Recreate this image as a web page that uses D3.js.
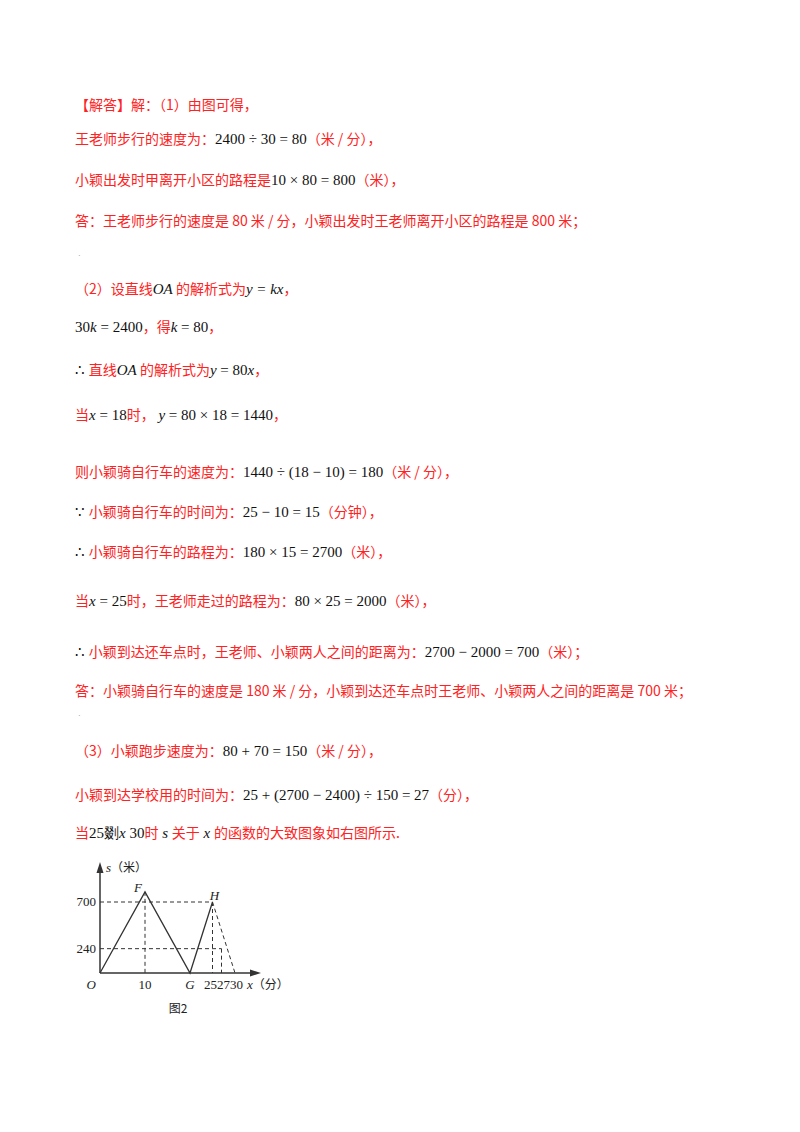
<!DOCTYPE html>
<html><head><meta charset="utf-8">
<script src="https://cdn.jsdelivr.net/npm/d3@7"></script>
<style>body{margin:0;background:#fff}</style>
</head><body>
<script>
// document text lines: [kind, text], r = red CJK, m = math, i = italic math
var textLines = [
  {y: 105, parts: [["r", "【解答】解：（1）由图可得，"]]},
  {y: 139, parts: [["r", "王老师步行的速度为："], ["m", "2400 ÷ 30 = 80"], ["r", "（米 / 分），"]]},
  {y: 180, parts: [["r", "小颖出发时甲离开小区的路程是"], ["m", "10 × 80 = 800"], ["r", "（米），"]]},
  {y: 221, parts: [["r", "答：王老师步行的速度是 80 米 / 分，小颖出发时王老师离开小区的路程是 800 米；"]]},
  {y: 289, parts: [["r", "（2）设直线"], ["i", "OA"], ["r", " 的解析式为"], ["i", "y = kx"], ["r", "，"]]},
  {y: 327, parts: [["m", "30"], ["i", "k"], ["m", " = 2400"], ["r", "，得"], ["i", "k"], ["m", " = 80"], ["r", "，"]]},
  {y: 370, parts: [["m", "∴ "], ["r", "直线"], ["i", "OA"], ["r", " 的解析式为"], ["i", "y"], ["m", " = 80"], ["i", "x"], ["r", "，"]]},
  {y: 415, parts: [["r", "当"], ["i", "x"], ["m", " = 18"], ["r", "时，"], ["i", " y"], ["m", " = 80 × 18 = 1440"], ["r", "，"]]},
  {y: 472, parts: [["r", "则小颖骑自行车的速度为："], ["m", "1440 ÷ (18 − 10) = 180"], ["r", "（米 / 分），"]]},
  {y: 512, parts: [["m", "∵ "], ["r", "小颖骑自行车的时间为："], ["m", "25 − 10 = 15"], ["r", "（分钟），"]]},
  {y: 552, parts: [["m", "∴ "], ["r", "小颖骑自行车的路程为："], ["m", "180 × 15 = 2700"], ["r", "（米），"]]},
  {y: 601, parts: [["r", "当"], ["i", "x"], ["m", " = 25"], ["r", "时，王老师走过的路程为："], ["m", "80 × 25 = 2000"], ["r", "（米），"]]},
  {y: 652, parts: [["m", "∴ "], ["r", "小颖到达还车点时，王老师、小颖两人之间的距离为："], ["m", "2700 − 2000 = 700"], ["r", "（米）；"]]},
  {y: 691, parts: [["r", "答：小颖骑自行车的速度是 180 米 / 分，小颖到达还车点时王老师、小颖两人之间的距离是 700 米；"]]},
  {y: 751, parts: [["r", "（3）小颖跑步速度为："], ["m", "80 + 70 = 150"], ["r", "（米 / 分），"]]},
  {y: 795, parts: [["r", "小颖到达学校用的时间为："], ["m", "25 + (2700 − 2400) ÷ 150 = 27"], ["r", "（分），"]]},
  {y: 833, parts: [["r", "当"], ["m", "25剟"], ["i", "x"], ["m", "  30"], ["r", "时"], ["i", " s "], ["r", "关于"], ["i", " x "], ["r", "的函数的大致图象如右图所示."]]}
];

// graph data: distance s (m) against time x (min)
var solidX = [0, 10, 20, 25];
var solidS = [0, 800, 0, 700];
var dashX = [25, 30];
var dashS = [700, 0];
var xTicks = [10];
var yTicks = [240, 700];
var xTickLabel = "252730";

var svg = d3.select("body").append("svg").attr("width", 800).attr("height", 1132);

textLines.forEach(function(line) {
  var t = svg.append("text").attr("x", 75).attr("y", line.y + 5).attr("font-size", 14);
  line.parts.forEach(function(p) {
    var s = t.append("tspan").text(p[1]);
    if (p[0] === "r") s.attr("fill", "#f22").attr("font-family", "Noto Sans CJK SC");
    else s.attr("fill", "#111").attr("font-family", "Liberation Serif").attr("font-size", 15)
      .attr("font-style", p[0] === "i" ? "italic" : "normal");
  });
});
svg.append("text").attr("x", 78).attr("y", 258).attr("font-size", 8).attr("fill", "#889").text("·");
svg.append("text").attr("x", 78).attr("y", 718).attr("font-size", 8).attr("fill", "#889").text("·");

// chart
var x = d3.scaleLinear().domain([0, 30]).range([100, 235]);
var y = d3.scaleLinear().domain([0, 700]).range([973, 902]);
var g = svg.append("g").attr("stroke", "#333").attr("fill", "none");
var line = d3.line().x(d => x(d[0])).y(d => y(d[1]));

// axes with arrows
g.append("line").attr("x1", x(0)).attr("x2", 255).attr("y1", y(0)).attr("y2", y(0)).attr("stroke-width", 1.5);
g.append("line").attr("x1", x(0)).attr("x2", x(0)).attr("y1", y(0)).attr("y2", 866).attr("stroke-width", 1.5);
svg.append("path").attr("d", `M${x(0) - 3.5},873 L${x(0)},862 L${x(0) + 3.5},873 Z`).attr("fill", "#333");
svg.append("path").attr("d", `M250,${y(0) - 3.5} L261,${y(0)} L250,${y(0) + 3.5} Z`).attr("fill", "#333");

// dashed guides
var dash = g.append("g").attr("stroke-dasharray", "4,3").attr("stroke-width", 1);
dash.append("line").attr("x1", x(0)).attr("x2", x(25)).attr("y1", y(700)).attr("y2", y(700));
dash.append("line").attr("x1", x(10)).attr("x2", x(10)).attr("y1", y(800)).attr("y2", y(0));
dash.append("line").attr("x1", x(0)).attr("x2", x(27)).attr("y1", y(240)).attr("y2", y(240));
dash.append("line").attr("x1", x(25)).attr("x2", x(25)).attr("y1", y(700)).attr("y2", y(0));
dash.append("line").attr("x1", x(27)).attr("x2", x(27)).attr("y1", y(240)).attr("y2", y(0));
dash.append("path").attr("d", line(d3.zip(dashX, dashS)));

g.append("path").attr("d", line(d3.zip(solidX, solidS))).attr("stroke-width", 1.3);

var lab = svg.append("g").attr("font-family", "Liberation Serif").attr("font-size", 13).attr("fill", "#222");
yTicks.forEach(v => lab.append("text").attr("x", 96).attr("y", y(v) + 4).attr("text-anchor", "end").text(v));
xTicks.forEach(v => lab.append("text").attr("x", x(v)).attr("y", 989).attr("text-anchor", "middle").text(v));
lab.append("text").attr("x", 204).attr("y", 989).text(xTickLabel);
lab.append("text").attr("x", 96).attr("y", 989).attr("text-anchor", "end").attr("font-style", "italic").text("O");
lab.append("text").attr("x", x(20)).attr("y", 989).attr("text-anchor", "middle").attr("font-style", "italic").text("G");
lab.append("text").attr("x", x(10) - 3).attr("y", 892).attr("text-anchor", "end").attr("font-style", "italic").text("F");
lab.append("text").attr("x", x(25) + 2).attr("y", 900).attr("text-anchor", "middle").attr("font-style", "italic").text("H");
lab.append("text").attr("x", 106).attr("y", 872).html('<tspan font-style="italic">s</tspan><tspan font-family="Noto Sans CJK SC" font-size="12">（米）</tspan>');
lab.append("text").attr("x", 247).attr("y", 989).html('<tspan font-style="italic">x</tspan><tspan font-family="Noto Sans CJK SC" font-size="12">（分）</tspan>');
lab.append("text").attr("x", 178).attr("y", 1013).attr("text-anchor", "middle").attr("font-family", "Noto Sans CJK SC").attr("font-size", 12).text("图2");
</script>
</body></html>
